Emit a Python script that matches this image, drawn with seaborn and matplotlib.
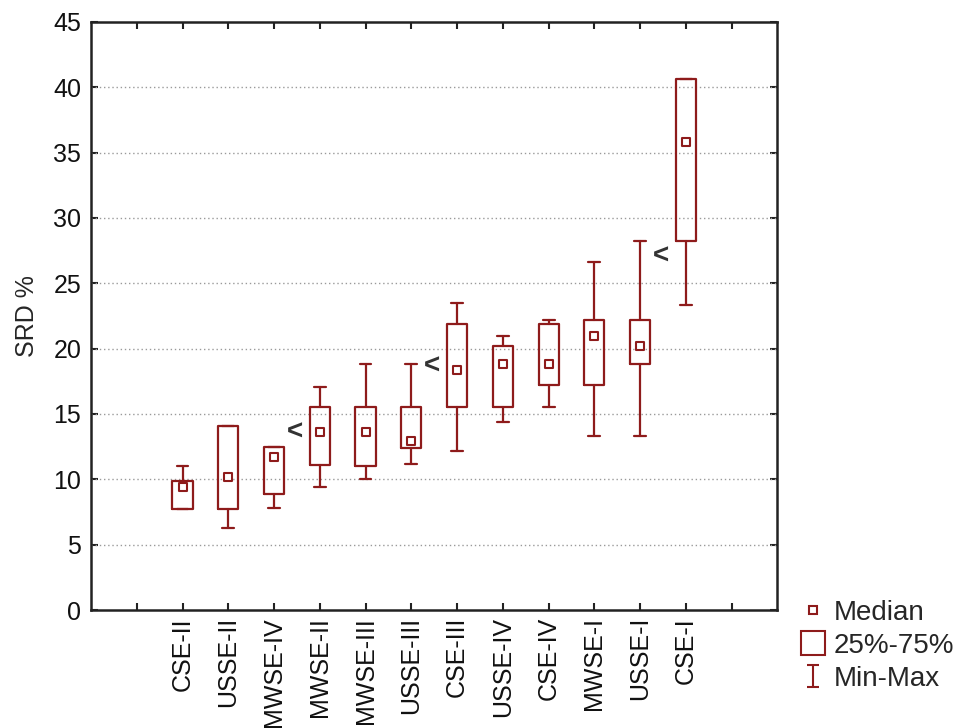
import matplotlib
matplotlib.use("Agg")
import matplotlib.pyplot as plt
from matplotlib.lines import Line2D
from matplotlib.path import Path
import seaborn as sns
import pandas as pd
import numpy as np

categories = ["CSE-II", "USSE-II", "MWSE-IV", "MWSE-II", "MWSE-III", "USSE-III",
              "CSE-III", "USSE-IV", "CSE-IV", "MWSE-I", "USSE-I", "CSE-I"]
medians = [9.4, 10.2, 11.7, 13.6, 13.6, 12.9, 18.4, 18.8, 18.8, 21.0, 20.2, 35.8]
q1 = [7.7, 7.7, 8.9, 11.1, 11.0, 12.4, 15.5, 15.5, 17.2, 17.2, 18.8, 28.2]
q3 = [9.9, 14.1, 12.5, 15.5, 15.5, 15.5, 21.9, 20.2, 21.9, 22.2, 22.2, 40.6]
mins = [7.7, 6.3, 7.8, 9.4, 10.0, 11.2, 12.2, 14.4, 15.5, 13.3, 13.3, 23.3]
maxs = [11.0, 14.1, 12.5, 17.1, 18.8, 18.8, 23.5, 21.0, 22.2, 26.6, 28.2, 40.6]
# "<" markers: category after which they appear, and their value
arrow_cats = ["MWSE-IV", "USSE-III", "USSE-I"]
arrow_vals = [13.6, 18.6, 27.0]
y_ticks = [0, 5, 10, 15, 20, 25, 30, 35, 40, 45]

sns.set_style("white")
plt.rcParams["font.family"] = ["Liberation Sans", "DejaVu Sans"]

RED = "#8e1b1b"
LW = 1.6
fig = plt.figure(figsize=(9.64, 7.28), dpi=100)
ax = fig.add_axes([0.0944, 0.162, 0.712, 0.808])

positions = np.arange(1, len(categories) + 1)
stats = [dict(med=m, q1=a, q3=b, whislo=lo, whishi=hi, label=c)
         for c, m, a, b, lo, hi in zip(categories, medians, q1, q3, mins, maxs)]
ax.bxp(stats, positions=positions, widths=0.44, capwidths=0.26, showfliers=False,
       boxprops=dict(color=RED, linewidth=LW),
       whiskerprops=dict(color=RED, linewidth=LW),
       capprops=dict(color=RED, linewidth=LW),
       medianprops=dict(linewidth=0), zorder=3)

df = pd.DataFrame({"pos": positions, "median": medians})
sns.scatterplot(data=df, x="pos", y="median", marker="s", s=40,
                facecolor="white", edgecolor=RED, linewidth=1.5, ax=ax, zorder=4)

for c, v in zip(arrow_cats, arrow_vals):
    xi = categories.index(c) + 1 + 0.45
    ax.text(xi, v, "<", ha="center", va="center", fontsize=20, fontweight="bold",
            color="#333333", zorder=5)

ax.set_xlim(-1, 14)
ax.set_ylim(0, 45)
ax.set_xticks(np.arange(0, 14))
ax.set_xticklabels([""] + categories + [""], rotation=90, fontsize=18)
ax.set_yticks(y_ticks)
ax.set_yticklabels([str(t) for t in y_ticks], fontsize=18)
ax.set_xlabel("")
ax.set_ylabel("SRD %", fontsize=18, labelpad=10)

ax.tick_params(axis="both", direction="in", length=5, width=1.5, color="#222222",
               top=True, right=True, bottom=True, left=True, labelcolor="#111111")
ax.tick_params(axis="x", pad=5)
ax.tick_params(axis="y", pad=7)
for s in ax.spines.values():
    s.set_visible(True)
    s.set_linewidth(1.8)
    s.set_color("#222222")

for t in y_ticks[1:-1]:
    ax.axhline(t, color="#9a9a9a", linestyle=(0, (1, 2)), linewidth=1.0, zorder=1)

# legend
ibeam = Path([(-0.5, 1), (0.5, 1), (0, 1), (0, -1), (-0.5, -1), (0.5, -1)],
             [Path.MOVETO, Path.LINETO, Path.MOVETO, Path.LINETO, Path.MOVETO, Path.LINETO])
handles = [
    Line2D([], [], linestyle="none", marker="s", markersize=6, markerfacecolor="white",
           markeredgecolor=RED, markeredgewidth=1.5),
    Line2D([], [], linestyle="none", marker="s", markersize=17, markerfacecolor="white",
           markeredgecolor=RED, markeredgewidth=1.5),
    Line2D([], [], linestyle="none", marker=ibeam, markersize=16, markerfacecolor="none",
           markeredgecolor=RED, markeredgewidth=1.5),
]
fig.legend(handles, ["Median", "25%-75%", "Min-Max"], loc="upper left",
           bbox_to_anchor=(0.816, 0.195), frameon=False, fontsize=20,
           handlelength=0.9, handletextpad=0.3, labelspacing=0.25, borderpad=0)

fig.savefig("out.png", dpi=100)
